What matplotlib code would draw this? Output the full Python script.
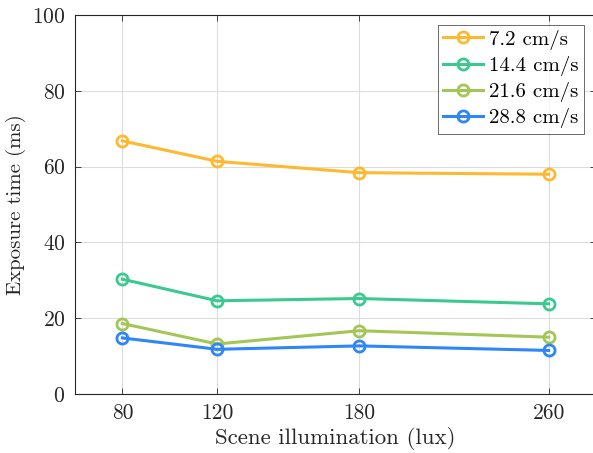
import matplotlib
matplotlib.use('Agg')
import matplotlib.pyplot as plt

# data
illumination = [80, 120, 180, 260]
speed_labels = ['7.2 cm/s', '14.4 cm/s', '21.6 cm/s', '28.8 cm/s']
exp_72 = [66.8, 61.4, 58.4, 58.0]
exp_144 = [30.3, 24.6, 25.2, 23.8]
exp_216 = [18.6, 13.2, 16.7, 15.0]
exp_288 = [14.8, 11.8, 12.7, 11.5]
y_ticks = [0, 20, 40, 60, 80, 100]

colors = ['#FDB92F', '#3CC98F', '#A3C657', '#2F86F6']

plt.rcParams['font.family'] = 'serif'
plt.rcParams['font.serif'] = ['cmr10']
plt.rcParams['mathtext.fontset'] = 'cm'
plt.rcParams['axes.unicode_minus'] = False
plt.rcParams['axes.formatter.use_mathtext'] = True

fig = plt.figure(figsize=(5.93, 4.53), dpi=100)
ax = fig.add_axes([0.1265, 0.1302, 0.8786, 0.8366])

series = [exp_72, exp_144, exp_216, exp_288]
for vals, lab, c in zip(series, speed_labels, colors):
    ax.plot(illumination, vals, '-o', color=c, label=lab, linewidth=2.2,
            markersize=8, markerfacecolor='none', markeredgewidth=2.0)

ax.set_xlim(60, 280)
ax.set_ylim(0, 100)
ax.set_xticks(illumination)
ax.set_xticklabels([str(v) for v in illumination])
ax.set_yticks(y_ticks)
ax.grid(True, color='#dcdcdc', linewidth=0.8)
ax.set_axisbelow(True)

for s in ax.spines.values():
    s.set_color('#262626')
    s.set_linewidth(0.8)
ax.tick_params(direction='in', length=4, width=0.6, colors='#262626',
               labelsize=15.5, top=True, right=True, pad=7)
for t in ax.get_xticklabels() + ax.get_yticklabels():
    t.set_color('#262626')

ax.set_xlabel('Scene illumination (lux)', fontsize=16.5, color='#262626', labelpad=3)
ax.set_ylabel('Exposure time (ms)', fontsize=15, color='#262626', labelpad=4)

leg = ax.legend(loc='upper left', bbox_to_anchor=(0.697, 0.975), fontsize=15,
                frameon=True, fancybox=False, handlelength=1.9, handletextpad=0.3,
                borderpad=0.25, labelspacing=0.3, borderaxespad=0)
leg.get_frame().set_edgecolor('#262626')
leg.get_frame().set_linewidth(0.6)

fig.savefig('out.png', dpi=100)
